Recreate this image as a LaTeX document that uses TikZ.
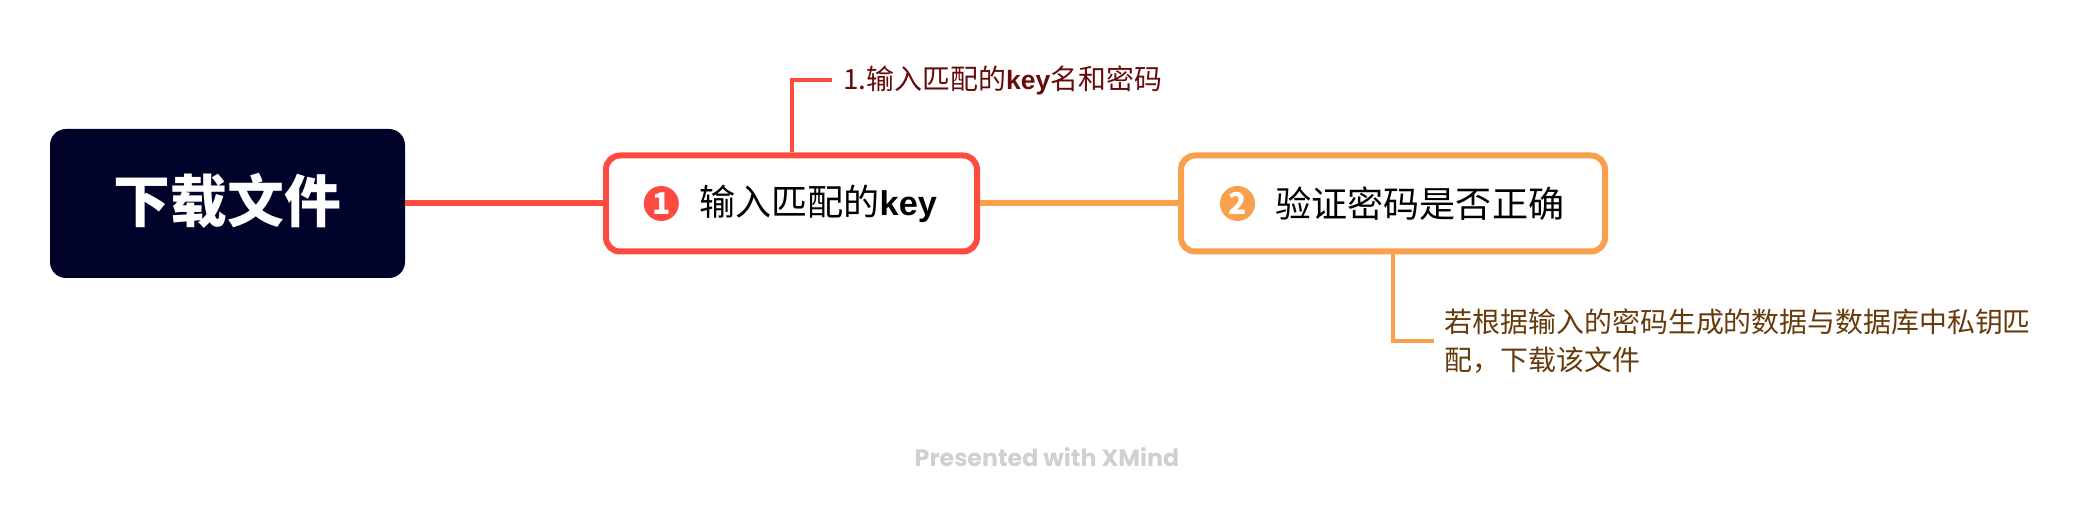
\documentclass[tikz,border=0pt]{standalone}
\usepackage{fontspec}
\setmainfont{Noto Sans CJK SC}
\newfontfamily\markfont{Poppins}
\newfontfamily\keyfont[Scale=0.95]{Liberation Sans}
\usetikzlibrary{positioning}
\definecolor{rootink}{HTML}{000229}
\definecolor{keyred}{HTML}{FF4A40}
\definecolor{passorange}{HTML}{FA9F4C}
\definecolor{keynoteink}{HTML}{660A0A}
\definecolor{passnoteink}{HTML}{663A0A}
\definecolor{markgrey}{HTML}{D0D0D0}

\begin{document}
\begin{tikzpicture}[
  rootbox/.style={rectangle, rounded corners=8pt, fill=rootink, outer sep=0pt, minimum width=177.5pt, minimum height=74.5pt},
  roottext/.style={inner sep=0pt, text=white, font=\fontsize{28.4}{30}\selectfont\bfseries},
  topicbox/.style={rectangle, rounded corners=7pt, draw=#1, line width=3pt, fill=white, minimum width=185.5pt, minimum height=48pt},
  badge/.style={circle, fill=#1, text=white, inner sep=0pt, minimum size=17.5pt, font=\fontsize{15}{15}\selectfont\bfseries},
  topictext/.style={inner sep=0pt, font=\fontsize{18.05}{20}\selectfont},
  notetext/.style={inner sep=5.5pt, align=left, text=#1, font=\fontsize{13.95}{19}\selectfont},
  mainlink/.style={line width=3pt, draw=#1},
  notelink/.style={line width=2pt, draw=#1},
]
\useasboundingbox (0,0) rectangle (1047pt,254pt);

\node[rootbox] (root) at (113.75pt,152.25pt) {};
\node[roottext] (roottitle) at ([yshift=1.3pt]root.center) {下载文件};
\node[topicbox=keyred, right=99pt of root] (keybox) {};
\node[topicbox=passorange, minimum width=212pt, right=99pt of keybox] (passbox) {};

\node[badge=keyred, right=20.2pt of keybox.west] (keybadge) {1};
\node[topictext, right=9.8pt of keybadge] (keytext) {输入匹配的{\keyfont\bfseries key}};
\node[badge=passorange, right=20.8pt of passbox.west] (passbadge) {2};
\node[topictext, right=9.8pt of passbadge] (passtext) {验证密码是否正确};

\node[notetext=keynoteink, anchor=west] (keynote) at ([shift={(20.25pt,36pt)}]keybox.north) {1.输入匹配的{\keyfont\bfseries key}名和密码};
\node[notetext=passnoteink, anchor=west] (passnote) at ([shift={(20.25pt,-43.5pt)}]passbox.south) {若根据输入的密码生成的数据与数据库中私钥匹\\配，下载该文件};

\draw[mainlink=keyred] (root) -- (keybox);
\draw[mainlink=passorange] (keybox) -- (passbox);
\draw[notelink=keyred] (keybox.north) |- (keynote.west);
\draw[notelink=passorange] (passbox.south) |- (passnote.west);

\node[text=markgrey, font=\markfont\fontsize{11.85}{14}\selectfont\bfseries] (mark) at (523.5pt,25.5pt) {Presented with XMind};
\end{tikzpicture}
\end{document}
